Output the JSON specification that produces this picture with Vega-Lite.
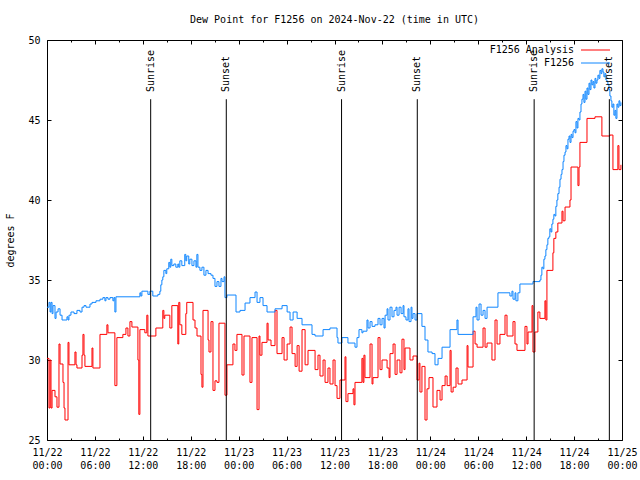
{
  "$schema": "https://vega.github.io/schema/vega-lite/v6.json",
  "width": 575,
  "height": 400,
  "autosize": {"type": "none"},
  "padding": {"left": 47, "top": 40, "right": 18, "bottom": 40},
  "background": "white",
  "title": {"text": "Dew Point for F1256 on 2024-Nov-22 (time in UTC)", "font": "DejaVu Sans Mono", "fontSize": 10, "fontWeight": "normal", "color": "black", "anchor": "middle", "offset": 10},
  "config": {
    "view": {"stroke": "black", "strokeWidth": 1},
    "font": "DejaVu Sans Mono",
    "axis": {"labelFont": "DejaVu Sans Mono", "labelFontSize": 10, "labelColor": "black", "tickColor": "black", "titleFont": "DejaVu Sans Mono", "titleFontSize": 10, "titleFontWeight": "normal", "titleColor": "black", "grid": false, "domain": false}
  },
  "resolve": {"axis": {"x": "independent", "y": "independent"}},
  "layer": [
    {
      "data": {"values": [
        {"t":"2024-11-22T00:00Z","v":30.1},{"t":"2024-11-22T00:15Z","v":27.0},{"t":"2024-11-22T00:23Z","v":30.0},{"t":"2024-11-22T00:30Z","v":27.0},{"t":"2024-11-22T00:38Z","v":28.1},{"t":"2024-11-22T01:00Z","v":27.7},{"t":"2024-11-22T01:15Z","v":27.05},{"t":"2024-11-22T01:30Z","v":31.0},{"t":"2024-11-22T01:38Z","v":29.75},{"t":"2024-11-22T02:00Z","v":28.6},{"t":"2024-11-22T02:08Z","v":27.0},{"t":"2024-11-22T02:15Z","v":26.25},{"t":"2024-11-22T02:38Z","v":31.1},{"t":"2024-11-22T02:45Z","v":29.7},{"t":"2024-11-22T03:30Z","v":30.5},{"t":"2024-11-22T03:38Z","v":29.7},{"t":"2024-11-22T03:45Z","v":29.5},{"t":"2024-11-22T04:23Z","v":30.3},{"t":"2024-11-22T04:30Z","v":31.6},{"t":"2024-11-22T04:38Z","v":30.3},{"t":"2024-11-22T04:45Z","v":29.6},{"t":"2024-11-22T05:38Z","v":30.75},{"t":"2024-11-22T05:45Z","v":29.5},{"t":"2024-11-22T06:38Z","v":31.6},{"t":"2024-11-22T07:30Z","v":32.2},{"t":"2024-11-22T07:38Z","v":31.7},{"t":"2024-11-22T08:30Z","v":28.4},{"t":"2024-11-22T08:45Z","v":31.4},{"t":"2024-11-22T09:30Z","v":31.6},{"t":"2024-11-22T09:53Z","v":32.0},{"t":"2024-11-22T10:08Z","v":31.5},{"t":"2024-11-22T10:23Z","v":32.4},{"t":"2024-11-22T10:38Z","v":32.06},{"t":"2024-11-22T11:23Z","v":30.0},{"t":"2024-11-22T11:30Z","v":26.6},{"t":"2024-11-22T11:38Z","v":31.9},{"t":"2024-11-22T12:15Z","v":31.7},{"t":"2024-11-22T12:30Z","v":32.8},{"t":"2024-11-22T12:38Z","v":31.5},{"t":"2024-11-22T13:38Z","v":32.0},{"t":"2024-11-22T14:30Z","v":33.1},{"t":"2024-11-22T14:38Z","v":32.6},{"t":"2024-11-22T14:45Z","v":32.8},{"t":"2024-11-22T15:23Z","v":32.0},{"t":"2024-11-22T15:38Z","v":33.4},{"t":"2024-11-22T16:23Z","v":31.0},{"t":"2024-11-22T16:30Z","v":33.6},{"t":"2024-11-22T16:38Z","v":32.2},{"t":"2024-11-22T16:53Z","v":31.6},{"t":"2024-11-22T17:23Z","v":32.9},{"t":"2024-11-22T17:30Z","v":33.6},{"t":"2024-11-22T18:17Z","v":32.5},{"t":"2024-11-22T18:32Z","v":32.0},{"t":"2024-11-22T18:47Z","v":31.5},{"t":"2024-11-22T19:17Z","v":29.1},{"t":"2024-11-22T19:24Z","v":28.3},{"t":"2024-11-22T19:32Z","v":33.1},{"t":"2024-11-22T20:10Z","v":31.25},{"t":"2024-11-22T20:17Z","v":30.5},{"t":"2024-11-22T20:32Z","v":32.4},{"t":"2024-11-22T20:47Z","v":28.1},{"t":"2024-11-22T21:02Z","v":28.7},{"t":"2024-11-22T21:17Z","v":28.6},{"t":"2024-11-22T21:32Z","v":32.3},{"t":"2024-11-22T22:17Z","v":27.8},{"t":"2024-11-22T22:32Z","v":29.7},{"t":"2024-11-22T23:17Z","v":31.0},{"t":"2024-11-22T23:32Z","v":30.6},{"t":"2024-11-22T23:47Z","v":31.6},
        {"t":"2024-11-23T00:25Z","v":29.06},{"t":"2024-11-23T00:40Z","v":31.5},{"t":"2024-11-23T01:25Z","v":28.6},{"t":"2024-11-23T01:40Z","v":31.4},{"t":"2024-11-23T02:18Z","v":26.9},{"t":"2024-11-23T02:33Z","v":31.5},{"t":"2024-11-23T02:40Z","v":30.3},{"t":"2024-11-23T02:55Z","v":31.1},{"t":"2024-11-23T03:33Z","v":32.3},{"t":"2024-11-23T03:41Z","v":31.25},{"t":"2024-11-23T04:03Z","v":30.9},{"t":"2024-11-23T04:33Z","v":33.1},{"t":"2024-11-23T04:48Z","v":30.4},{"t":"2024-11-23T05:26Z","v":31.4},{"t":"2024-11-23T05:41Z","v":30.0},{"t":"2024-11-23T06:04Z","v":31.0},{"t":"2024-11-23T06:26Z","v":32.06},{"t":"2024-11-23T06:41Z","v":30.4},{"t":"2024-11-23T07:04Z","v":29.6},{"t":"2024-11-23T07:19Z","v":30.9},{"t":"2024-11-23T07:34Z","v":29.3},{"t":"2024-11-23T07:56Z","v":31.9},{"t":"2024-11-23T08:19Z","v":29.7},{"t":"2024-11-23T08:41Z","v":30.6},{"t":"2024-11-23T09:34Z","v":29.4},{"t":"2024-11-23T09:56Z","v":30.3},{"t":"2024-11-23T10:11Z","v":29.0},{"t":"2024-11-23T10:34Z","v":30.0},{"t":"2024-11-23T10:49Z","v":28.6},{"t":"2024-11-23T11:11Z","v":29.5},{"t":"2024-11-23T11:26Z","v":28.5},{"t":"2024-11-23T11:49Z","v":30.0},{"t":"2024-11-23T12:04Z","v":28.4},{"t":"2024-11-23T12:19Z","v":27.6},{"t":"2024-11-23T12:41Z","v":28.75},{"t":"2024-11-23T13:19Z","v":30.2},{"t":"2024-11-23T13:26Z","v":27.4},{"t":"2024-11-23T13:41Z","v":27.9},{"t":"2024-11-23T14:19Z","v":28.2},{"t":"2024-11-23T14:26Z","v":27.2},{"t":"2024-11-23T14:34Z","v":28.6},{"t":"2024-11-23T15:26Z","v":30.1},{"t":"2024-11-23T15:34Z","v":28.6},{"t":"2024-11-23T15:41Z","v":30.3},{"t":"2024-11-23T15:49Z","v":28.9},{"t":"2024-11-23T16:27Z","v":31.0},{"t":"2024-11-23T16:42Z","v":28.5},{"t":"2024-11-23T16:49Z","v":28.9},{"t":"2024-11-23T17:27Z","v":31.4},{"t":"2024-11-23T17:42Z","v":29.4},{"t":"2024-11-23T17:57Z","v":30.0},{"t":"2024-11-23T18:35Z","v":29.5},{"t":"2024-11-23T18:50Z","v":28.9},{"t":"2024-11-23T18:57Z","v":30.4},{"t":"2024-11-23T19:20Z","v":31.0},{"t":"2024-11-23T19:35Z","v":29.1},{"t":"2024-11-23T19:50Z","v":30.0},{"t":"2024-11-23T20:12Z","v":29.2},{"t":"2024-11-23T20:27Z","v":31.3},{"t":"2024-11-23T20:42Z","v":29.4},{"t":"2024-11-23T20:50Z","v":30.75},{"t":"2024-11-23T21:27Z","v":30.0},{"t":"2024-11-23T21:50Z","v":30.25},{"t":"2024-11-23T22:20Z","v":28.75},{"t":"2024-11-23T22:35Z","v":29.8},{"t":"2024-11-23T22:42Z","v":28.0},{"t":"2024-11-23T22:57Z","v":29.6},{"t":"2024-11-23T23:20Z","v":26.25},{"t":"2024-11-23T23:35Z","v":28.2},{"t":"2024-11-23T23:50Z","v":28.9},
        {"t":"2024-11-24T00:20Z","v":27.06},{"t":"2024-11-24T00:50Z","v":28.1},{"t":"2024-11-24T01:13Z","v":27.5},{"t":"2024-11-24T01:28Z","v":28.4},{"t":"2024-11-24T01:51Z","v":29.0},{"t":"2024-11-24T02:06Z","v":28.4},{"t":"2024-11-24T02:28Z","v":30.6},{"t":"2024-11-24T02:36Z","v":28.0},{"t":"2024-11-24T02:51Z","v":28.3},{"t":"2024-11-24T03:13Z","v":29.5},{"t":"2024-11-24T03:28Z","v":28.5},{"t":"2024-11-24T03:58Z","v":28.75},{"t":"2024-11-24T04:36Z","v":30.9},{"t":"2024-11-24T04:43Z","v":29.56},{"t":"2024-11-24T05:21Z","v":31.8},{"t":"2024-11-24T05:36Z","v":31.0},{"t":"2024-11-24T05:51Z","v":30.8},{"t":"2024-11-24T06:36Z","v":32.0},{"t":"2024-11-24T06:51Z","v":30.8},{"t":"2024-11-24T07:06Z","v":31.06},{"t":"2024-11-24T07:43Z","v":30.0},{"t":"2024-11-24T08:06Z","v":32.5},{"t":"2024-11-24T08:21Z","v":31.0},{"t":"2024-11-24T08:43Z","v":31.6},{"t":"2024-11-24T09:21Z","v":32.8},{"t":"2024-11-24T09:36Z","v":31.5},{"t":"2024-11-24T10:21Z","v":32.4},{"t":"2024-11-24T10:36Z","v":31.0},{"t":"2024-11-24T10:51Z","v":30.6},{"t":"2024-11-24T11:51Z","v":32.1},{"t":"2024-11-24T12:06Z","v":31.0},{"t":"2024-11-24T12:14Z","v":31.75},{"t":"2024-11-24T12:44Z","v":33.4},{"t":"2024-11-24T12:51Z","v":30.5},{"t":"2024-11-24T13:06Z","v":31.75},{"t":"2024-11-24T13:28Z","v":33.0},{"t":"2024-11-24T13:43Z","v":32.6},{"t":"2024-11-24T14:21Z","v":33.7},{"t":"2024-11-24T14:28Z","v":32.5},{"t":"2024-11-24T14:36Z","v":35.6},{"t":"2024-11-24T15:21Z","v":36.7},{"t":"2024-11-24T15:28Z","v":37.6},{"t":"2024-11-24T15:43Z","v":38.0},{"t":"2024-11-24T15:58Z","v":38.56},{"t":"2024-11-24T16:29Z","v":39.3},{"t":"2024-11-24T16:37Z","v":38.7},{"t":"2024-11-24T16:52Z","v":39.56},{"t":"2024-11-24T17:29Z","v":40.0},{"t":"2024-11-24T17:37Z","v":42.06},{"t":"2024-11-24T18:29Z","v":40.9},{"t":"2024-11-24T18:37Z","v":42.06},{"t":"2024-11-24T18:44Z","v":43.6},{"t":"2024-11-24T19:37Z","v":45.1},{"t":"2024-11-24T20:37Z","v":45.2},{"t":"2024-11-24T21:29Z","v":44.0},{"t":"2024-11-24T22:29Z","v":44.06},{"t":"2024-11-24T22:52Z","v":41.9},{"t":"2024-11-24T23:29Z","v":43.4},{"t":"2024-11-24T23:37Z","v":41.9},{"t":"2024-11-24T23:52Z","v":42.2}
      ], "format": {"parse": {"t": "utc:'%Y-%m-%dT%H:%MZ'"}}},
      "mark": {"type": "line", "interpolate": "step-after", "strokeWidth": 1},
      "encoding": {
        "x": {"field": "t", "type": "temporal",
          "scale": {"type": "utc", "domain": [{"year": 2024, "month": 11, "date": 22, "hours": 0, "utc": true}, {"year": 2024, "month": 11, "date": 25, "hours": 0, "utc": true}]},
          "axis": {"orient": "bottom", "title": null, "tickCount": 36,
            "labelExpr": "utchours(datum.value) % 6 == 0 ? [utcFormat(datum.value, '%m/%d'), utcFormat(datum.value, '%H:%M')] : ''",
            "tickSize": {"condition": {"test": "utchours(datum.value) % 6 == 0", "value": -4}, "value": -2},
            "labelPadding": 11, "labelLineHeight": 13, "labelFlush": false, "labelOverlap": false}},
        "y": {"field": "v", "type": "quantitative", "scale": {"domain": [25, 50], "nice": false, "zero": false},
          "axis": {"orient": "left", "title": "degrees F", "values": [25, 30, 35, 40, 45, 50], "tickSize": -4, "labelPadding": 11, "titlePadding": 12}},
        "color": {"datum": "F1256 Analysis",
          "scale": {"domain": ["F1256 Analysis", "F1256"], "range": ["#ff0000", "#0f86ff"]},
          "legend": {"title": null, "orient": "none", "legendX": 543, "legendY": 4.5, "symbolType": "M-2.9,0H2.9", "symbolSize": 100, "symbolStrokeWidth": 1, "symbolFillColor": "transparent", "labelAlign": "right", "labelOffset": -27, "labelFont": "DejaVu Sans Mono", "labelFontSize": 10, "labelColor": "black", "rowPadding": 2, "padding": 0}}
      }
    },
    {
      "data": {"values": [
        {"t":"2024-11-22T00:00Z","v":33.3},{"t":"2024-11-22T00:15Z","v":33.6},{"t":"2024-11-22T00:23Z","v":33.0},{"t":"2024-11-22T00:30Z","v":33.6},{"t":"2024-11-22T00:38Z","v":32.9},{"t":"2024-11-22T00:45Z","v":33.4},{"t":"2024-11-22T01:00Z","v":32.6},{"t":"2024-11-22T01:08Z","v":33.0},{"t":"2024-11-22T01:23Z","v":33.2},{"t":"2024-11-22T01:38Z","v":32.8},{"t":"2024-11-22T01:53Z","v":32.5},{"t":"2024-11-22T02:30Z","v":32.7},{"t":"2024-11-22T02:38Z","v":32.5},{"t":"2024-11-22T02:45Z","v":32.8},{"t":"2024-11-22T03:00Z","v":33.0},{"t":"2024-11-22T03:23Z","v":32.9},{"t":"2024-11-22T03:45Z","v":33.1},{"t":"2024-11-22T04:08Z","v":33.0},{"t":"2024-11-22T04:23Z","v":33.3},{"t":"2024-11-22T04:38Z","v":33.4},{"t":"2024-11-22T04:53Z","v":33.3},{"t":"2024-11-22T05:23Z","v":33.5},{"t":"2024-11-22T05:38Z","v":33.6},{"t":"2024-11-22T06:08Z","v":33.7},{"t":"2024-11-22T06:38Z","v":33.8},{"t":"2024-11-22T07:00Z","v":33.9},{"t":"2024-11-22T07:15Z","v":33.7},{"t":"2024-11-22T07:23Z","v":33.9},{"t":"2024-11-22T07:38Z","v":33.8},{"t":"2024-11-22T07:53Z","v":33.9},{"t":"2024-11-22T08:15Z","v":33.7},{"t":"2024-11-22T08:23Z","v":33.9},{"t":"2024-11-22T08:30Z","v":33.0},{"t":"2024-11-22T08:38Z","v":33.95},{"t":"2024-11-22T11:38Z","v":34.2},{"t":"2024-11-22T11:45Z","v":34.0},{"t":"2024-11-22T11:53Z","v":34.3},{"t":"2024-11-22T12:38Z","v":34.1},{"t":"2024-11-22T12:53Z","v":34.3},{"t":"2024-11-22T13:15Z","v":34.0},{"t":"2024-11-22T13:53Z","v":34.1},{"t":"2024-11-22T14:08Z","v":34.3},{"t":"2024-11-22T14:15Z","v":34.7},{"t":"2024-11-22T14:23Z","v":35.0},{"t":"2024-11-22T14:30Z","v":35.2},{"t":"2024-11-22T14:38Z","v":35.6},{"t":"2024-11-22T14:53Z","v":35.4},{"t":"2024-11-22T15:00Z","v":35.7},{"t":"2024-11-22T15:15Z","v":36.1},{"t":"2024-11-22T15:23Z","v":35.8},{"t":"2024-11-22T15:30Z","v":36.3},{"t":"2024-11-22T15:38Z","v":35.9},{"t":"2024-11-22T15:53Z","v":36.0},{"t":"2024-11-22T16:08Z","v":35.8},{"t":"2024-11-22T16:23Z","v":36.0},{"t":"2024-11-22T16:30Z","v":35.8},{"t":"2024-11-22T16:38Z","v":36.2},{"t":"2024-11-22T16:53Z","v":35.9},{"t":"2024-11-22T17:15Z","v":36.6},{"t":"2024-11-22T17:23Z","v":36.2},{"t":"2024-11-22T17:30Z","v":36.5},{"t":"2024-11-22T17:45Z","v":36.0},{"t":"2024-11-22T17:53Z","v":36.3},{"t":"2024-11-22T18:09Z","v":35.9},{"t":"2024-11-22T18:24Z","v":36.2},{"t":"2024-11-22T18:39Z","v":35.8},{"t":"2024-11-22T18:46Z","v":36.6},{"t":"2024-11-22T18:54Z","v":35.8},{"t":"2024-11-22T19:09Z","v":35.6},{"t":"2024-11-22T19:24Z","v":35.8},{"t":"2024-11-22T19:39Z","v":35.3},{"t":"2024-11-22T19:54Z","v":35.6},{"t":"2024-11-22T20:10Z","v":35.4},{"t":"2024-11-22T20:32Z","v":35.3},{"t":"2024-11-22T20:47Z","v":35.1},{"t":"2024-11-22T21:02Z","v":34.6},{"t":"2024-11-22T21:17Z","v":34.9},{"t":"2024-11-22T21:32Z","v":34.6},{"t":"2024-11-22T21:47Z","v":35.1},{"t":"2024-11-22T21:55Z","v":34.9},{"t":"2024-11-22T22:10Z","v":35.2},{"t":"2024-11-22T22:17Z","v":33.9},{"t":"2024-11-22T22:32Z","v":34.06},{"t":"2024-11-22T23:40Z","v":33.0},
        {"t":"2024-11-23T00:10Z","v":33.1},{"t":"2024-11-23T00:48Z","v":33.56},{"t":"2024-11-23T01:25Z","v":33.9},{"t":"2024-11-23T02:03Z","v":34.25},{"t":"2024-11-23T02:18Z","v":33.6},{"t":"2024-11-23T02:40Z","v":33.9},{"t":"2024-11-23T03:03Z","v":33.4},{"t":"2024-11-23T03:33Z","v":33.0},{"t":"2024-11-23T04:33Z","v":33.2},{"t":"2024-11-23T05:26Z","v":33.4},{"t":"2024-11-23T06:04Z","v":33.0},{"t":"2024-11-23T06:26Z","v":32.5},{"t":"2024-11-23T06:49Z","v":33.0},{"t":"2024-11-23T07:19Z","v":32.6},{"t":"2024-11-23T07:56Z","v":32.2},{"t":"2024-11-23T09:11Z","v":31.6},{"t":"2024-11-23T09:34Z","v":31.5},{"t":"2024-11-23T10:34Z","v":31.9},{"t":"2024-11-23T11:26Z","v":32.0},{"t":"2024-11-23T12:19Z","v":31.4},{"t":"2024-11-23T12:26Z","v":31.06},{"t":"2024-11-23T12:56Z","v":31.4},{"t":"2024-11-23T13:41Z","v":31.06},{"t":"2024-11-23T14:34Z","v":30.8},{"t":"2024-11-23T14:49Z","v":31.4},{"t":"2024-11-23T15:04Z","v":31.9},{"t":"2024-11-23T15:26Z","v":31.7},{"t":"2024-11-23T15:34Z","v":31.8},{"t":"2024-11-23T16:04Z","v":32.5},{"t":"2024-11-23T16:12Z","v":32.0},{"t":"2024-11-23T16:27Z","v":32.4},{"t":"2024-11-23T16:42Z","v":32.1},{"t":"2024-11-23T17:04Z","v":32.2},{"t":"2024-11-23T17:27Z","v":32.6},{"t":"2024-11-23T17:42Z","v":32.2},{"t":"2024-11-23T17:57Z","v":32.6},{"t":"2024-11-23T18:12Z","v":32.0},{"t":"2024-11-23T18:20Z","v":32.8},{"t":"2024-11-23T18:35Z","v":33.2},{"t":"2024-11-23T18:42Z","v":32.5},{"t":"2024-11-23T18:57Z","v":33.3},{"t":"2024-11-23T19:12Z","v":32.7},{"t":"2024-11-23T19:27Z","v":33.1},{"t":"2024-11-23T19:42Z","v":33.3},{"t":"2024-11-23T19:50Z","v":32.8},{"t":"2024-11-23T20:05Z","v":33.3},{"t":"2024-11-23T20:20Z","v":32.9},{"t":"2024-11-23T20:35Z","v":33.4},{"t":"2024-11-23T20:42Z","v":32.7},{"t":"2024-11-23T20:57Z","v":32.5},{"t":"2024-11-23T21:12Z","v":33.2},{"t":"2024-11-23T21:20Z","v":32.4},{"t":"2024-11-23T21:35Z","v":33.3},{"t":"2024-11-23T21:42Z","v":32.6},{"t":"2024-11-23T21:50Z","v":32.9},{"t":"2024-11-23T22:05Z","v":32.5},{"t":"2024-11-23T22:20Z","v":32.9},{"t":"2024-11-23T22:57Z","v":32.1},{"t":"2024-11-23T23:20Z","v":31.25},{"t":"2024-11-23T23:42Z","v":30.5},
        {"t":"2024-11-24T00:13Z","v":30.4},{"t":"2024-11-24T00:35Z","v":29.7},{"t":"2024-11-24T00:58Z","v":30.1},{"t":"2024-11-24T01:28Z","v":30.8},{"t":"2024-11-24T02:28Z","v":31.9},{"t":"2024-11-24T03:20Z","v":32.5},{"t":"2024-11-24T03:28Z","v":31.6},{"t":"2024-11-24T05:21Z","v":32.7},{"t":"2024-11-24T05:43Z","v":33.3},{"t":"2024-11-24T05:51Z","v":32.5},{"t":"2024-11-24T06:06Z","v":33.5},{"t":"2024-11-24T06:21Z","v":32.8},{"t":"2024-11-24T06:36Z","v":33.1},{"t":"2024-11-24T06:51Z","v":32.6},{"t":"2024-11-24T07:06Z","v":33.3},{"t":"2024-11-24T08:28Z","v":34.2},{"t":"2024-11-24T09:58Z","v":34.0},{"t":"2024-11-24T10:13Z","v":34.3},{"t":"2024-11-24T10:21Z","v":33.8},{"t":"2024-11-24T10:36Z","v":34.2},{"t":"2024-11-24T10:43Z","v":33.7},{"t":"2024-11-24T10:58Z","v":34.2},{"t":"2024-11-24T11:13Z","v":34.75},{"t":"2024-11-24T12:51Z","v":34.9},{"t":"2024-11-24T13:43Z","v":35.0},{"t":"2024-11-24T13:51Z","v":35.3},{"t":"2024-11-24T13:58Z","v":35.8},{"t":"2024-11-24T14:06Z","v":35.7},{"t":"2024-11-24T14:13Z","v":36.3},{"t":"2024-11-24T14:21Z","v":36.5},{"t":"2024-11-24T14:28Z","v":36.9},{"t":"2024-11-24T14:36Z","v":37.2},{"t":"2024-11-24T14:43Z","v":37.6},{"t":"2024-11-24T14:51Z","v":37.7},{"t":"2024-11-24T14:58Z","v":38.2},{"t":"2024-11-24T15:06Z","v":38.0},{"t":"2024-11-24T15:13Z","v":38.5},{"t":"2024-11-24T15:21Z","v":38.8},{"t":"2024-11-24T15:28Z","v":39.1},{"t":"2024-11-24T15:36Z","v":39.0},{"t":"2024-11-24T15:43Z","v":39.6},{"t":"2024-11-24T15:51Z","v":40.0},{"t":"2024-11-24T15:58Z","v":40.4},{"t":"2024-11-24T16:07Z","v":40.8},{"t":"2024-11-24T16:14Z","v":41.3},{"t":"2024-11-24T16:22Z","v":41.6},{"t":"2024-11-24T16:29Z","v":41.9},{"t":"2024-11-24T16:37Z","v":42.4},{"t":"2024-11-24T16:44Z","v":42.8},{"t":"2024-11-24T16:52Z","v":43.0},{"t":"2024-11-24T16:59Z","v":43.4},{"t":"2024-11-24T17:07Z","v":43.2},{"t":"2024-11-24T17:14Z","v":43.8},{"t":"2024-11-24T17:22Z","v":44.0},{"t":"2024-11-24T17:29Z","v":43.6},{"t":"2024-11-24T17:37Z","v":44.1},{"t":"2024-11-24T17:44Z","v":43.9},{"t":"2024-11-24T17:52Z","v":44.3},{"t":"2024-11-24T17:59Z","v":44.4},{"t":"2024-11-24T18:07Z","v":44.2},{"t":"2024-11-24T18:14Z","v":44.9},{"t":"2024-11-24T18:22Z","v":44.5},{"t":"2024-11-24T18:29Z","v":45.1},{"t":"2024-11-24T18:37Z","v":45.0},{"t":"2024-11-24T18:44Z","v":45.5},{"t":"2024-11-24T18:52Z","v":46.0},{"t":"2024-11-24T18:59Z","v":46.3},{"t":"2024-11-24T19:07Z","v":46.6},{"t":"2024-11-24T19:14Z","v":46.1},{"t":"2024-11-24T19:22Z","v":46.8},{"t":"2024-11-24T19:29Z","v":46.3},{"t":"2024-11-24T19:37Z","v":47.0},{"t":"2024-11-24T19:44Z","v":46.6},{"t":"2024-11-24T19:52Z","v":47.3},{"t":"2024-11-24T19:59Z","v":46.9},{"t":"2024-11-24T20:07Z","v":47.5},{"t":"2024-11-24T20:14Z","v":47.2},{"t":"2024-11-24T20:22Z","v":47.4},{"t":"2024-11-24T20:29Z","v":47.0},{"t":"2024-11-24T20:37Z","v":47.6},{"t":"2024-11-24T20:44Z","v":47.3},{"t":"2024-11-24T20:52Z","v":47.5},{"t":"2024-11-24T20:59Z","v":47.8},{"t":"2024-11-24T21:07Z","v":47.6},{"t":"2024-11-24T21:14Z","v":48.1},{"t":"2024-11-24T21:22Z","v":47.9},{"t":"2024-11-24T21:29Z","v":48.2},{"t":"2024-11-24T21:37Z","v":48.0},{"t":"2024-11-24T21:44Z","v":47.7},{"t":"2024-11-24T21:52Z","v":47.9},{"t":"2024-11-24T21:59Z","v":47.5},{"t":"2024-11-24T22:07Z","v":47.4},{"t":"2024-11-24T22:14Z","v":47.2},{"t":"2024-11-24T22:22Z","v":46.9},{"t":"2024-11-24T22:29Z","v":46.5},{"t":"2024-11-24T22:37Z","v":46.2},{"t":"2024-11-24T22:44Z","v":45.8},{"t":"2024-11-24T22:52Z","v":46.0},{"t":"2024-11-24T22:59Z","v":45.3},{"t":"2024-11-24T23:07Z","v":45.6},{"t":"2024-11-24T23:14Z","v":45.1},{"t":"2024-11-24T23:22Z","v":46.0},{"t":"2024-11-24T23:29Z","v":45.8},{"t":"2024-11-24T23:37Z","v":46.2},{"t":"2024-11-24T23:44Z","v":45.9},{"t":"2024-11-24T23:52Z","v":46.1}
      ], "format": {"parse": {"t": "utc:'%Y-%m-%dT%H:%MZ'"}}},
      "mark": {"type": "line", "interpolate": "step-after", "strokeWidth": 1},
      "encoding": {
        "x": {"field": "t", "type": "temporal",
          "axis": {"orient": "top", "title": null, "labels": false, "tickCount": 36,
            "tickSize": {"condition": {"test": "utchours(datum.value) % 6 == 0", "value": -4}, "value": -2}}},
        "y": {"field": "v", "type": "quantitative",
          "axis": {"orient": "right", "title": null, "labels": false, "values": [25, 30, 35, 40, 45, 50], "tickSize": -4}},
        "color": {"datum": "F1256"}
      }
    },
    {
      "data": {"values": [
        {"t": "2024-11-22T12:59Z", "ev": "Sunrise"},
        {"t": "2024-11-22T22:27Z", "ev": "Sunset"},
        {"t": "2024-11-23T12:53Z", "ev": "Sunrise"},
        {"t": "2024-11-23T22:22Z", "ev": "Sunset"},
        {"t": "2024-11-24T13:00Z", "ev": "Sunrise"},
        {"t": "2024-11-24T22:25Z", "ev": "Sunset"}
      ], "format": {"parse": {"t": "utc:'%Y-%m-%dT%H:%MZ'"}}},
      "layer": [
        {"mark": {"type": "rule", "color": "black", "strokeWidth": 1},
         "encoding": {"x": {"field": "t", "type": "temporal", "axis": null}, "y": {"datum": 25, "type": "quantitative", "axis": null}, "y2": {"datum": 46.3}}},
        {"mark": {"type": "text", "angle": 270, "align": "left", "baseline": "middle", "font": "DejaVu Sans Mono", "fontSize": 10, "color": "black"},
         "encoding": {"x": {"field": "t", "type": "temporal", "axis": null}, "y": {"datum": 46.75, "type": "quantitative", "axis": null}, "text": {"field": "ev"}}}
      ]
    }
  ]
}
